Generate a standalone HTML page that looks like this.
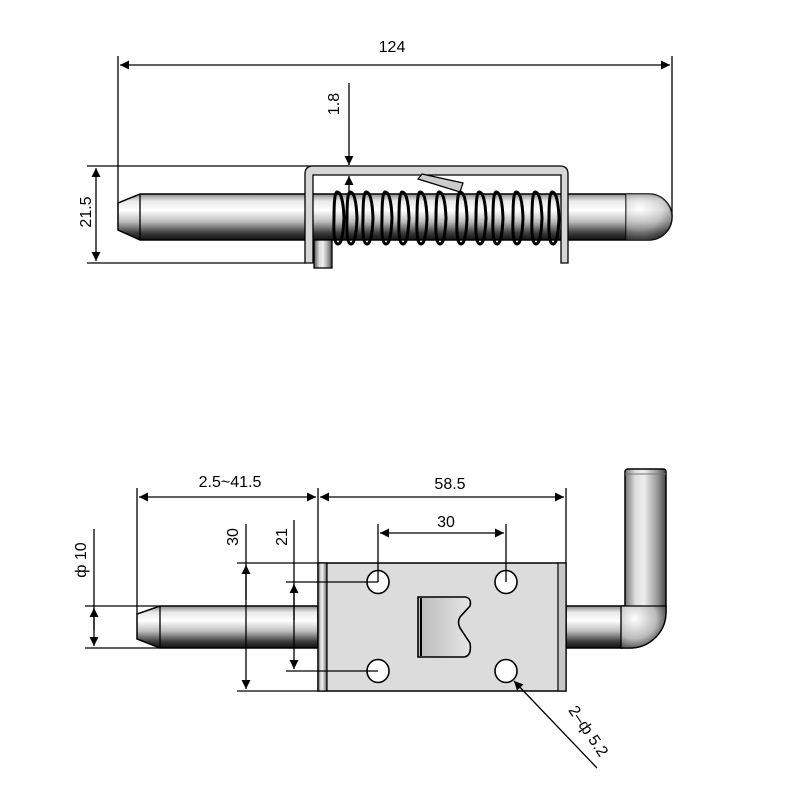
<!DOCTYPE html>
<html><head><meta charset="utf-8"><style>
html,body{margin:0;padding:0;background:#fff;}
svg{display:block;}
text{font-family:"Liberation Sans",sans-serif;font-size:16px;fill:#000;}
</style></head><body>
<svg width="788" height="800" viewBox="0 0 788 800" xmlns="http://www.w3.org/2000/svg">
<defs>
<linearGradient id="gv" x1="0" y1="0" x2="0" y2="1">
<stop offset="0" stop-color="#8a8a8a"/><stop offset="0.15" stop-color="#e8e8e8"/><stop offset="0.35" stop-color="#fff"/><stop offset="0.6" stop-color="#bdbdbd"/><stop offset="0.85" stop-color="#3a3a3a"/><stop offset="1" stop-color="#111"/>
</linearGradient>
<linearGradient id="gh" x1="0" y1="0" x2="1" y2="0">
<stop offset="0" stop-color="#555"/><stop offset="0.3" stop-color="#ddd"/><stop offset="0.5" stop-color="#eee"/><stop offset="0.8" stop-color="#999"/><stop offset="1" stop-color="#444"/>
</linearGradient>
<radialGradient id="gr" cx="0.3" cy="0.3" r="0.8">
<stop offset="0" stop-color="#fff"/><stop offset="0.6" stop-color="#bbb"/><stop offset="1" stop-color="#333"/>
</radialGradient>
<linearGradient id="gs" x1="0" y1="0" x2="1" y2="0">
<stop offset="0" stop-color="#bbb"/><stop offset="1" stop-color="#e6e6e6"/>
</linearGradient>
<marker id="a" viewBox="0 0 10 10" refX="10" refY="5" markerWidth="20" markerHeight="9" markerUnits="userSpaceOnUse" orient="auto-start-reverse"><path d="M0,0 L10,5 L0,10 z" fill="#000"/></marker>
</defs>
<g stroke="#000" stroke-width="1.3" fill="none">
<line x1="118" y1="56" x2="118" y2="205"/>
<line x1="672" y1="56" x2="672" y2="217"/>
<line x1="120" y1="65" x2="670" y2="65" marker-start="url(#a)" marker-end="url(#a)"/>
<line x1="87" y1="166" x2="349" y2="166"/>
<line x1="87" y1="263" x2="306" y2="263"/>
<line x1="96" y1="168" x2="96" y2="261" marker-start="url(#a)" marker-end="url(#a)"/>
</g>
<text x="392" y="52" text-anchor="middle">124</text>
<text transform="translate(91,212) rotate(-90)" text-anchor="middle">21.5</text>
<text transform="translate(339,104) rotate(-90)" text-anchor="middle">1.8</text>
<!-- pin -->
<path d="M140,194 L649,194 A23,23 0 0 1 649,240 L140,240 L118,230 L118,203 Z" fill="url(#gv)" stroke="#000" stroke-width="1.5"/>
<line x1="140" y1="194" x2="140" y2="240" stroke="#000" stroke-width="1.3"/>
<line x1="626" y1="194" x2="626" y2="240" stroke="#000" stroke-width="1.3"/>
<path d="M626,194 L649,194 A23,23 0 0 1 649,240 L626,240 Z" fill="url(#gr)" opacity="0.5"/>
<rect x="314" y="240" width="18" height="28" fill="url(#gh)" stroke="#000" stroke-width="1.3"/>
<path d="M305,263 L305,174 Q305,166 313,166 L560,166 Q568,166 568,174 L568,263 L561,263 L561,175 L313,175 L313,263 Z" fill="#d6d6d6" stroke="#000" stroke-width="1.3"/>
<path d="M422,174 L463,183 L460,192 L418,179 Z" fill="#ccc" stroke="#000" stroke-width="1.2"/>
<g fill="none" stroke="#000" stroke-width="3">
<path d="M337,192 q6,0 7,26 q-1,26 -6,26 q-5,0 -4,-26 q0,-26 3,-26z"/>
<path d="M350,192 q6,0 7,26 q-1,26 -6,26 q-5,0 -4,-26 q0,-26 3,-26z"/>
<path d="M366,192 q6,0 7,26 q-1,26 -6,26 q-5,0 -4,-26 q0,-26 3,-26z"/>
<path d="M385,192 q6,0 7,26 q-1,26 -6,26 q-5,0 -4,-26 q0,-26 3,-26z"/>
<path d="M402,192 q6,0 7,26 q-1,26 -6,26 q-5,0 -4,-26 q0,-26 3,-26z"/>
<path d="M420,192 q6,0 7,26 q-1,26 -6,26 q-5,0 -4,-26 q0,-26 3,-26z"/>
<path d="M439,192 q6,0 7,26 q-1,26 -6,26 q-5,0 -4,-26 q0,-26 3,-26z"/>
<path d="M460,192 q6,0 7,26 q-1,26 -6,26 q-5,0 -4,-26 q0,-26 3,-26z"/>
<path d="M479,192 q6,0 7,26 q-1,26 -6,26 q-5,0 -4,-26 q0,-26 3,-26z"/>
<path d="M496,192 q6,0 7,26 q-1,26 -6,26 q-5,0 -4,-26 q0,-26 3,-26z"/>
<path d="M516,192 q6,0 7,26 q-1,26 -6,26 q-5,0 -4,-26 q0,-26 3,-26z"/>
<path d="M535,192 q6,0 7,26 q-1,26 -6,26 q-5,0 -4,-26 q0,-26 3,-26z"/>
<path d="M552,192 q6,0 7,26 q-1,26 -6,26 q-5,0 -4,-26 q0,-26 3,-26z"/>
</g>
<g stroke="#000" stroke-width="1.3" fill="none">
<line x1="349" y1="83" x2="349" y2="165" marker-end="url(#a)"/>
<line x1="349" y1="196" x2="349" y2="176" marker-end="url(#a)"/>
</g>
<!-- ===== BOTTOM VIEW ===== -->
<path d="M160,606 L318,606 L318,648 L160,648 L137,639 L137,614 Z" fill="url(#gv)" stroke="#000" stroke-width="1.5"/>
<line x1="160" y1="606" x2="160" y2="648" stroke="#000" stroke-width="1.3"/>
<rect x="566" y="606" width="56" height="42" fill="url(#gv)" stroke="#000" stroke-width="1.5"/>
<path d="M622,606 L625,606 L625,472 Q625,469 628,469 L663,469 Q666,469 666,472 L666,612 A36,36 0 0 1 630,648 L622,648 Z" fill="url(#gh)" stroke="#000" stroke-width="1.5"/>
<path d="M621,606 L666,606 L666,612 A36,36 0 0 1 630,648 L621,648 Z" fill="url(#gr)" stroke="#000" stroke-width="1.3"/>
<line x1="625" y1="474" x2="666" y2="474" stroke="#777" stroke-width="1"/>
<rect x="318" y="563" width="248" height="128" fill="#dcdcdc" stroke="#000" stroke-width="1.5"/>
<rect x="318" y="563" width="9" height="128" fill="url(#gh)" stroke="#000" stroke-width="1.2"/>
<rect x="558" y="563" width="8" height="128" fill="#c8c8c8" stroke="#000" stroke-width="1.2"/>
<g fill="#fff" stroke="#000" stroke-width="1.6">
<ellipse cx="378" cy="582" rx="11" ry="11.5"/>
<ellipse cx="506" cy="582" rx="11" ry="11.5"/>
<ellipse cx="378" cy="671" rx="11" ry="11.5"/>
<ellipse cx="506" cy="671" rx="11" ry="11.5"/>
</g>
<path d="M418,597 L465,597 Q472,598 470,606 L460,617 Q457,622 460,628 L470,643 Q472,656 464,657 L418,657 Z" fill="url(#gs)" stroke="#000" stroke-width="1.6"/>
<line x1="421" y1="598" x2="421" y2="656" stroke="#000" stroke-width="2"/>
<g stroke="#000" stroke-width="1.3" fill="none">
<line x1="137" y1="488" x2="137" y2="614"/>
<line x1="318" y1="488" x2="318" y2="563"/>
<line x1="566" y1="488" x2="566" y2="563"/>
<line x1="139" y1="497" x2="316" y2="497" marker-start="url(#a)" marker-end="url(#a)"/>
<line x1="320" y1="497" x2="564" y2="497" marker-start="url(#a)" marker-end="url(#a)"/>
<line x1="378" y1="524" x2="378" y2="582"/>
<line x1="506" y1="524" x2="506" y2="582"/>
<line x1="380" y1="533" x2="504" y2="533" marker-start="url(#a)" marker-end="url(#a)"/>
<line x1="237" y1="563" x2="318" y2="563"/>
<line x1="237" y1="691" x2="318" y2="691"/>
<line x1="286" y1="582" x2="378" y2="582"/>
<line x1="286" y1="671" x2="378" y2="671"/>
<line x1="246" y1="524" x2="246" y2="689" marker-end="url(#a)"/>
<line x1="246" y1="600" x2="246" y2="565" marker-end="url(#a)"/>
<line x1="294" y1="520" x2="294" y2="669" marker-end="url(#a)"/>
<line x1="294" y1="620" x2="294" y2="584" marker-end="url(#a)"/>
<line x1="85" y1="606" x2="160" y2="606"/>
<line x1="85" y1="648" x2="160" y2="648"/>
<line x1="94" y1="529" x2="94" y2="646" marker-end="url(#a)"/>
<line x1="94" y1="630" x2="94" y2="608" marker-end="url(#a)"/>
<line x1="597" y1="768" x2="514" y2="681" marker-end="url(#a)"/>
</g>
<text x="230" y="487" text-anchor="middle">2.5~41.5</text>
<text x="450" y="489" text-anchor="middle">58.5</text>
<text x="446" y="527" text-anchor="middle">30</text>
<text transform="translate(238,537) rotate(-90)" text-anchor="middle">30</text>
<text transform="translate(287,537) rotate(-90)" text-anchor="middle">21</text>
<text transform="translate(86,560) rotate(-90)" text-anchor="middle">ф 10</text>
<text transform="translate(584,734) rotate(56)" text-anchor="middle">2–ф 5.2</text>
</svg>
</body></html>
